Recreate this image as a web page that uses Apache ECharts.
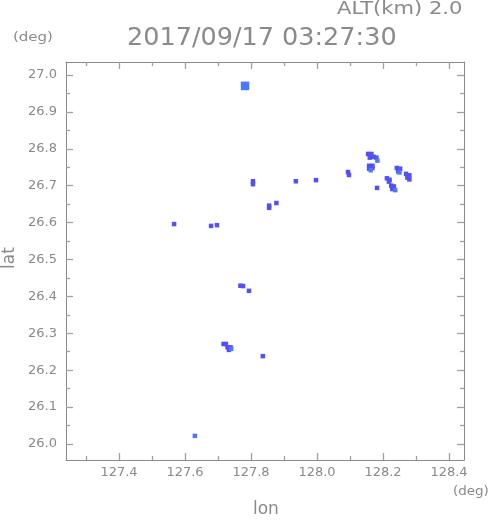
<!DOCTYPE html>
<html><head><meta charset="utf-8">
<script src="https://cdn.jsdelivr.net/npm/echarts@6/dist/echarts.min.js"></script>
<style>html,body{margin:0;padding:0;background:#fff}#c{width:491px;height:521px}</style>
</head><body><div id="c"></div>
<script>
// axis ranges and ticks (deg)
const lonRange = [127.2394, 128.4455];
const latRange = [25.9566, 27.0352];
const lonTicks = [127.4, 127.6, 127.8, 128.0, 128.2, 128.4];
const lonMinorTicks = [127.3, 127.5, 127.7, 127.9, 128.1, 128.3];
const latTicks = [26.0, 26.1, 26.2, 26.3, 26.4, 26.5, 26.6, 26.7, 26.8, 26.9, 27.0];
const latMinorTicks = [26.05, 26.15, 26.25, 26.35, 26.45, 26.55, 26.65, 26.75, 26.85, 26.95];

// echo cells [lon, lat]
const echoStrong = [
  [127.806, 26.712], [127.806, 26.704],
  [127.936, 26.712], [127.997, 26.715],
  [128.094, 26.737], [128.097, 26.729],
  [127.877, 26.653], [127.855, 26.646], [127.855, 26.640],
  [128.155, 26.786], [128.165, 26.786], [128.160, 26.776], [128.172, 26.778], [128.180, 26.776],
  [128.158, 26.754], [128.168, 26.754], [128.158, 26.746], [128.168, 26.748],
  [128.242, 26.748], [128.252, 26.746], [128.246, 26.739],
  [128.270, 26.732], [128.280, 26.728], [128.274, 26.722], [128.280, 26.717],
  [128.212, 26.720], [128.220, 26.716], [128.218, 26.711],
  [128.182, 26.694],
  [128.225, 26.700], [128.233, 26.698], [128.228, 26.691],
  [127.567, 26.596], [127.679, 26.591], [127.697, 26.593],
  [127.768, 26.429], [127.776, 26.428], [127.794, 26.415],
  [127.717, 26.271], [127.724, 26.271],
  [127.729, 26.262], [127.738, 26.262], [127.733, 26.255],
  [127.836, 26.238]
];
const echoWeak = [
  [127.776, 26.976], [127.788, 26.976], [127.776, 26.965], [127.788, 26.965],
  [128.183, 26.768], [128.163, 26.742], [128.250, 26.736],
  [128.237, 26.688], [127.740, 26.258],
  [127.630, 26.022]
];

const grey = '#8a8a8a';
const font = 'DejaVu Sans';

function xAx(pos, ticks, len, labels, line) {
  return {
    type: 'value', position: pos, min: lonRange[0], max: lonRange[1],
    axisLine: {show: line, onZero: false, lineStyle: {color: grey, width: 1}},
    axisTick: {show: true, inside: true, length: len, customValues: ticks,
               lineStyle: {color: '#a0a0a0', width: 1.3}},
    axisLabel: {show: true, customValues: ticks, margin: 6,
                color: labels ? grey : 'rgba(0,0,0,0)',
                fontSize: 13, fontFamily: font, formatter: v => v.toFixed(1)},
    splitLine: {show: false}
  };
}
function yAx(pos, ticks, len, labels, line) {
  return {
    type: 'value', position: pos, min: latRange[0], max: latRange[1],
    axisLine: {show: line, onZero: false, lineStyle: {color: grey, width: 1}},
    axisTick: {show: true, inside: true, length: len, customValues: ticks,
               lineStyle: {color: '#a0a0a0', width: 1.3}},
    axisLabel: {show: true, customValues: ticks, margin: 9,
                color: labels ? grey : 'rgba(0,0,0,0)',
                fontSize: 13, fontFamily: font, formatter: v => v.toFixed(1)},
    splitLine: {show: false}
  };
}

const chart = echarts.init(document.getElementById('c'), null, {renderer: 'canvas'});
chart.setOption({
  backgroundColor: '#fff',
  animation: false,
  grid: {left: 66, right: 27, top: 62, bottom: 61, containLabel: false, outerBoundsMode: 'none'},
  xAxis: [
    xAx('bottom', lonTicks, 7, true, true),
    xAx('bottom', lonMinorTicks, 4, false, false),
    xAx('top', lonTicks, 7, false, true),
    xAx('top', lonMinorTicks, 4, false, false)
  ],
  yAxis: [
    yAx('left', latTicks, 7, true, true),
    yAx('left', latMinorTicks, 4, false, false),
    yAx('right', latTicks, 7, false, true),
    yAx('right', latMinorTicks, 4, false, false)
  ],
  series: [
    {type: 'scatter', xAxisIndex: 0, yAxisIndex: 0, data: echoStrong,
     symbol: 'rect', symbolSize: 4.5, itemStyle: {color: '#5350f8', opacity: 1}, silent: true},
    {type: 'scatter', xAxisIndex: 0, yAxisIndex: 0, data: echoWeak,
     symbol: 'rect', symbolSize: 4.5, itemStyle: {color: '#4a78ff', opacity: 1}, silent: true}
  ],
  graphic: [
    {type: 'text', x: 337, y: 0, scaleX: 1.17, style: {text: 'ALT(km) 2.0', fill: grey, font: '18px "DejaVu Sans"'}},
    {type: 'text', x: 13, y: 32, scaleX: 1.25, style: {text: '(deg)', fill: grey, font: '12px "DejaVu Sans"'}},
    {type: 'text', x: 127, y: 25, style: {text: '2017/09/17 03:27:30', fill: grey, font: '25.5px "DejaVu Sans"'}},
    {type: 'text', x: 453, y: 486, scaleX: 1.12, style: {text: '(deg)', fill: grey, font: '12px "DejaVu Sans"'}},
    {type: 'text', x: 253, y: 501, style: {text: 'lon', fill: grey, font: '17px "DejaVu Sans"'}},
    {type: 'text', x: 10, y: 258, rotation: Math.PI / 2, style: {text: 'lat', fill: grey, font: '17px "DejaVu Sans"', align: 'center', verticalAlign: 'middle'}}
  ]
});
</script>
</body></html>
